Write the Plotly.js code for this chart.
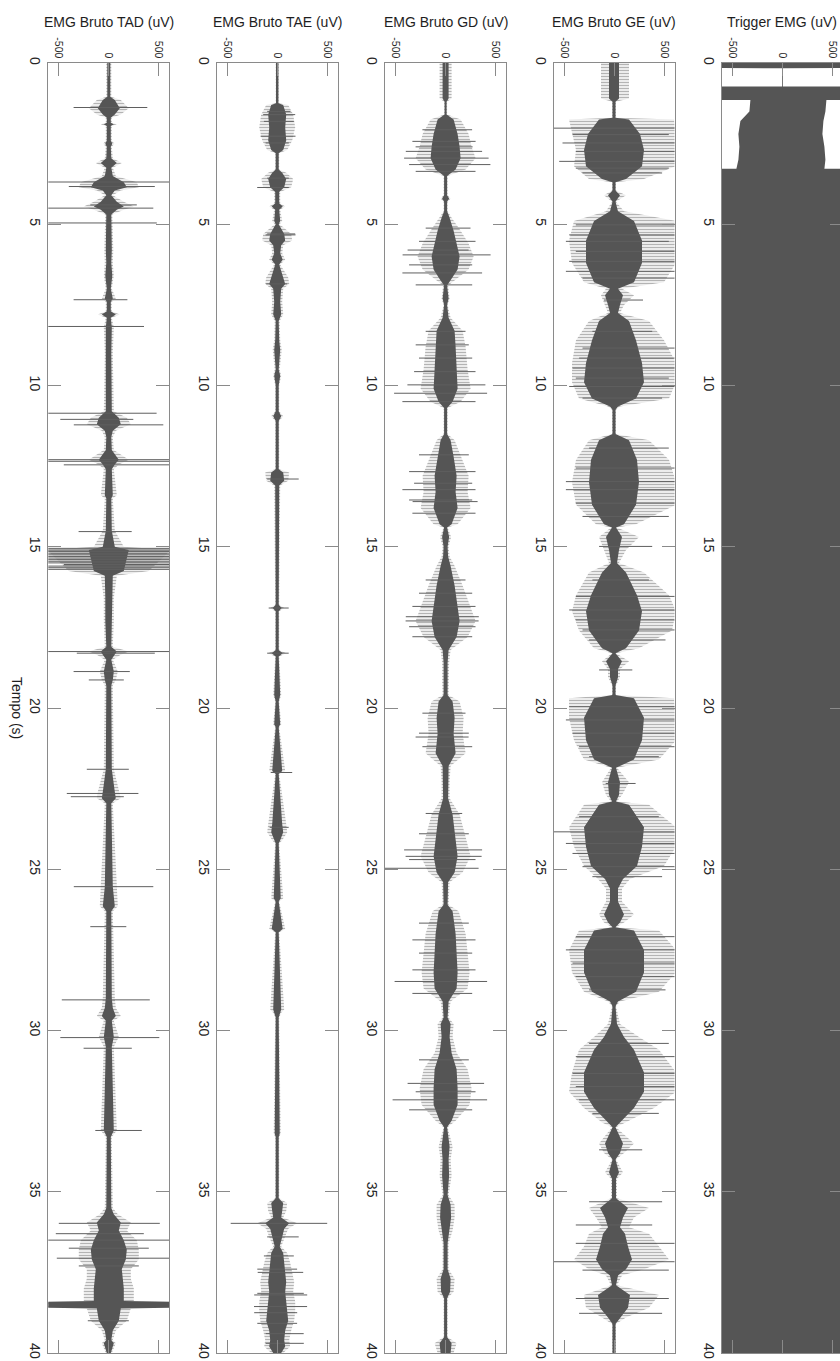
<!DOCTYPE html>
<html><head><meta charset="utf-8">
<script src="https://cdn.plot.ly/plotly-3.0.1.min.js"></script>
<style>html,body{margin:0;padding:0;background:#fff;overflow:hidden;}#chart{width:845px;height:1361px;}</style>
</head><body><div id="chart"></div><script>
// ---------- titles / ticks ----------
const panelTitles = ['EMG Bruto TAD (uV)', 'EMG Bruto TAE (uV)', 'EMG Bruto GD (uV)', 'EMG Bruto GE (uV)', 'Trigger EMG (uV)'];
const timeTitle = 'Tempo (s)';
const timeTicks = [0, 5, 10, 15, 20, 25, 30, 35, 40];
const ampTicks = [-500, 0, 500];
const ampTickText = ['-500', '0', '500'];

// ---------- TAD: envelope knots (time s, dense core half-width uV, outer half-width uV) ----------
const tadT      = [0,1.05,1.15,1.4,1.6,1.7,1.85,1.9,1.95,2.4,2.5,2.6,2.95,3.1,3.25,3.5,3.7,3.85,3.95,4.1,4.3,4.45,4.55,4.7,5.8,6.2,6.6,7.0,7.3,7.4,7.7,7.8,7.9,8.2,9.0,10.0,10.8,11.0,11.2,11.4,11.6,12.0,12.3,12.45,12.6,13.4,13.5,14.5,15.0,15.1,15.75,15.9,16.6,17.3,18.1,18.25,18.35,18.5,18.87,19.13,19.3,21.9,22.6,22.8,22.95,25.54,26.15,26.3,29.0,29.3,29.55,29.7,30.2,30.5,33.1,33.3,35.5,35.7,35.95,36.2,36.5,36.8,37.1,37.4,37.7,38.0,38.39,38.41,38.6,38.62,39.0,39.3,39.6,39.7,40];
const tadCore   = [15,15,60,110,60,20,20,50,20,20,35,20,25,80,25,40,150,180,60,25,80,150,80,25,30,25,35,20,40,20,20,70,20,30,25,30,30,100,120,40,25,30,100,60,30,40,25,30,60,200,150,40,35,35,25,80,60,25,50,40,25,30,60,70,25,40,60,25,30,40,70,30,50,30,50,20,25,50,120,100,150,180,170,130,140,150,150,620,620,120,100,40,25,50,20];
const tadOuter  = [25,25,120,200,120,30,30,80,30,30,55,30,40,130,40,70,280,300,120,40,150,250,150,35,45,40,50,30,70,30,30,110,30,50,40,45,50,180,220,70,40,50,200,100,50,80,40,60,150,620,400,80,50,50,40,200,120,40,90,70,40,50,110,120,40,80,90,40,60,70,120,50,100,50,80,30,40,90,220,180,280,300,300,220,220,250,250,620,620,220,180,70,40,70,30];
const tadSpikeT  = [1.38,3.69,3.83,4.4,4.5,4.96,7.34,8.17,10.86,11.05,11.22,12.3,12.35,12.46,14.53,15.05,15.1,15.15,15.2,15.25,15.3,15.35,15.4,15.45,15.5,15.55,15.6,15.65,15.7,18.25,18.3,18.87,19.13,21.9,22.65,22.75,25.54,26.78,29.05,30.22,30.55,33.1,35.98,36.3,36.5,36.75,37.06,37.3,39.0];
const tadSpikeLo = [-352,-620,-400,-185,-620,-620,-352,-620,-620,-485,-350,-620,-620,-450,-302,-620,-620,-620,-620,-620,-620,-620,-620,-620,-620,-450,-620,-620,-620,-620,-320,-352,-200,-220,-420,-380,-350,-185,-470,-485,-252,-135,-500,-530,-620,-400,-520,-300,-210];
const tadSpikeHi = [385,620,460,280,445,480,186,352,478,245,545,620,620,620,229,620,620,620,620,620,620,620,620,620,620,620,620,620,620,620,460,210,150,200,296,150,445,175,410,505,230,330,510,350,620,400,620,300,200];

// ---------- TAE ----------
const taeT      = [0,1.25,1.3,1.6,2.0,2.4,2.7,2.8,3.3,3.4,3.6,3.85,4.0,4.35,4.45,4.55,4.9,5.0,5.3,5.5,5.65,5.9,6.1,6.25,6.65,6.85,7.0,7.4,7.8,8.0,8.6,8.9,9.5,9.7,10.0,10.8,10.95,11.1,12.6,12.7,12.95,13.1,16.8,16.9,17.0,18.2,18.3,18.4,19.6,19.8,20.5,20.6,21.95,22.05,23.6,23.85,24.1,24.2,25.9,26.0,26.85,26.95,29.35,29.45,29.6,33.2,33.3,35.2,35.35,35.6,35.8,35.98,36.15,36.4,36.7,36.9,37.2,37.5,37.8,38.1,38.4,38.7,39.0,39.3,39.6,39.8,40];
const taeCore   = [12,12,60,90,80,90,60,15,15,50,90,70,20,20,55,20,30,15,70,80,40,30,55,20,60,80,40,30,40,15,20,30,15,30,15,15,40,15,15,60,70,20,15,45,15,15,55,15,30,15,30,15,50,15,50,60,30,15,35,15,55,15,40,30,15,25,15,15,60,50,40,120,70,50,25,60,70,80,90,80,90,100,110,80,70,80,40];
const taeOuter  = [15,15,110,160,180,150,100,20,20,90,160,140,30,30,80,30,50,25,140,150,60,50,80,30,110,120,60,50,60,25,30,45,25,40,20,20,60,20,20,120,110,30,20,70,20,20,90,20,40,20,40,20,80,20,90,100,50,20,60,20,80,20,70,40,20,35,20,20,100,90,60,200,110,80,40,100,130,150,170,160,180,180,170,140,120,130,60];
const taeSpikeT  = [1.5,1.6,1.81,2.27,2.48,3.57,3.86,5.3,5.33,6.85,12.9,16.9,18.3,22.0,23.7,35.98,36.4,36.99,37.4,37.5,38.15,38.2,38.56,38.75,39.08,39.4,39.7];
const taeSpikeLo = [-100,-140,-133,-166,-116,-100,-200,-100,-116,-110,-100,-85,-100,-65,-75,-465,-100,-133,-199,-195,-199,-230,-232,-230,-199,-115,-116];
const taeSpikeHi = [133,180,166,183,116,116,116,180,183,100,215,115,115,150,115,500,215,166,199,260,266,300,299,200,199,265,266];

// ---------- GD ----------
const gdT      = [0,1.1,1.2,1.6,1.75,2.2,2.6,2.95,3.3,3.5,4.1,4.2,4.3,4.6,4.8,5.2,5.6,6.0,6.4,6.7,6.9,7.3,7.5,7.9,8.3,8.8,9.5,10.1,10.5,10.7,11.5,11.7,12.2,12.8,13.3,13.8,14.3,14.4,14.7,15.0,15.3,15.6,16.2,16.8,17.3,17.8,18.2,18.6,19.2,19.6,19.8,20.3,20.8,21.4,21.8,22.3,22.8,23.3,24.0,24.6,25.1,25.4,26.1,26.3,27.0,27.6,28.2,28.7,29.1,29.6,29.8,30.2,30.7,31.2,31.8,32.3,32.8,33.0,33.6,34.0,34.5,35.1,35.4,35.8,36.2,36.6,37.4,37.7,38.1,38.3,39.5,39.7,40];
const gdCore   = [30,30,10,10,80,120,140,150,100,15,15,35,15,15,40,80,110,140,120,60,15,30,15,30,90,100,110,120,70,15,15,50,80,110,100,120,60,15,35,20,25,50,90,120,140,110,30,20,20,20,70,90,80,100,30,25,25,70,100,120,90,25,20,70,100,110,120,110,30,20,50,40,60,110,120,120,60,15,40,30,35,20,50,55,40,20,20,50,45,15,15,60,50];
const gdOuter  = [60,60,15,15,150,230,260,300,200,20,20,50,20,20,60,150,230,280,230,110,25,40,20,50,170,200,220,250,150,20,20,90,150,230,220,250,120,20,55,30,40,90,170,240,300,220,50,35,35,30,140,180,170,200,50,40,40,140,200,250,170,40,30,130,200,220,240,220,50,30,80,70,110,220,260,240,100,20,70,50,60,30,90,90,70,30,30,90,80,20,20,110,80];
const gdSpikeT  = [2.07,2.43,2.6,2.74,2.95,3.15,3.36,5.12,5.53,5.8,5.95,6.26,6.51,6.88,8.32,8.74,9.15,9.57,9.98,10.24,10.5,12.15,12.67,13.03,13.23,13.55,13.6,13.96,16.03,16.44,16.85,17.17,17.3,17.48,17.79,20.16,20.78,20.9,21.2,23.27,23.9,24.4,24.6,24.7,24.97,26.67,27.19,27.6,28.12,28.48,28.85,30.91,31.64,31.9,32.15,32.46];
const gdSpikeLo = [-232,-332,-300,-398,-415,-365,-299,-199,-266,-380,-430,-365,-432,-299,-199,-299,-266,-315,-382,-515,-432,-266,-365,-315,-432,-365,-330,-332,-199,-266,-332,-398,-400,-365,-332,-232,-266,-300,-232,-199,-266,-415,-400,-365,-615,-266,-332,-266,-332,-510,-332,-266,-380,-299,-530,-365];
const gdSpikeHi = [265,300,270,365,430,448,299,249,299,230,450,266,365,266,199,232,266,299,398,415,299,232,299,266,299,266,320,299,199,266,299,332,330,299,266,199,232,230,266,166,232,365,360,299,330,232,299,266,299,415,266,232,385,299,415,266];

// ---------- GE (core symmetric, outer negative / positive extents) ----------
const geT        = [0,1.1,1.2,1.7,1.75,2.2,2.7,3.2,3.6,3.7,3.95,4.1,4.3,4.6,4.9,5.5,6.2,6.8,7.0,7.2,7.5,7.75,8.0,8.6,9.3,9.9,10.4,10.65,10.75,11.5,11.7,12.3,13.0,13.7,14.3,14.4,14.7,15.1,15.5,15.8,16.5,17.0,17.6,18.15,18.3,18.55,18.8,19.05,19.3,19.6,19.7,20.3,21.0,21.6,21.85,22.3,22.7,22.9,23.0,23.7,24.3,24.9,25.3,25.6,26.0,26.4,26.65,26.8,26.9,27.5,28.2,28.8,29.1,29.25,29.8,30.2,30.6,31.3,31.9,32.4,32.85,33.0,33.5,33.8,34.0,34.4,34.6,35.2,35.5,35.8,36.1,36.3,36.7,37.1,37.4,37.6,37.9,38.2,38.6,38.9,39.1,40];
const geCore     = [50,50,15,15,150,260,300,280,120,15,15,60,15,40,200,280,280,200,40,90,60,40,150,220,280,300,220,40,15,15,150,230,250,220,100,20,80,50,30,120,230,280,250,120,15,80,40,40,15,15,200,300,280,200,20,60,50,20,150,300,280,230,90,40,40,100,60,15,200,300,300,220,40,15,30,100,200,300,300,200,60,15,90,60,15,50,20,20,140,90,60,110,140,180,120,40,20,160,140,60,15,15];
const geOuterNeg = [130,130,20,20,450,420,380,400,250,20,20,100,20,80,400,450,420,300,80,130,90,60,250,380,420,420,350,60,20,20,250,380,420,380,180,30,150,100,50,250,380,420,350,200,20,120,60,60,20,20,450,450,400,300,30,120,80,30,300,450,400,300,160,80,80,150,100,20,350,450,420,300,60,20,60,200,350,420,450,300,120,20,150,100,20,90,30,30,250,180,120,250,300,400,250,80,30,300,280,120,20,20];
const geOuterPos = [150,150,20,20,600,620,620,620,300,20,20,120,20,100,620,620,620,500,80,200,100,60,350,500,620,620,550,60,20,20,350,550,620,620,220,30,250,120,50,300,550,620,580,250,20,150,60,60,20,20,600,620,620,450,30,150,80,30,350,620,620,500,160,80,80,200,100,20,450,620,620,450,60,20,60,250,450,620,620,400,120,20,200,100,20,90,30,30,350,200,150,350,450,550,300,80,30,450,350,120,20,20];
const geSpikeT  = [2.02,2.22,2.48,2.74,3.05,3.26,3.41,5.02,5.33,5.53,5.84,6.15,6.46,6.67,7.35,8.32,8.84,9.15,9.46,9.77,10.03,10.39,11.94,12.56,12.98,13.23,13.65,14.06,14.99,16.03,16.54,16.96,17.27,17.58,17.89,18.82,19.96,20.37,20.78,21.2,21.51,22.34,23.37,23.84,24.2,24.51,24.92,25.23,27.09,27.5,27.91,28.33,28.74,30.4,30.81,31.33,31.74,32.15,32.57,33.7,35.31,36.03,36.6,37.17,37.43,38.31,38.77];
const geSpikeLo = [-620,-415,-515,-382,-548,-382,-315,-382,-448,-481,-382,-448,-481,-315,-100,-216,-315,-349,-415,-382,-448,-315,-249,-382,-481,-481,-382,-315,-149,-216,-382,-448,-382,-315,-249,-149,-448,-481,-415,-349,-249,-83,-349,-620,-481,-415,-315,-216,-382,-481,-415,-382,-249,-249,-382,-415,-382,-349,-216,-149,-249,-382,-382,-620,-315,-382,-349];
const geSpikeHi = [620,548,620,620,620,548,481,620,620,548,620,620,620,620,290,382,620,620,620,548,620,481,548,620,620,620,620,548,382,349,620,620,620,620,515,183,620,620,620,620,448,216,448,620,620,620,620,481,620,620,620,620,515,548,620,620,620,620,448,282,481,382,610,620,548,548,481];

// ---------- Trigger (lower / upper extents; signal saturates beyond the axis) ----------
const trigT  = [0,0.15,0.16,0.73,0.74,1.14,1.15,1.5,1.8,2.2,2.6,3.0,3.28,3.32,40];
const trigLo = [-3000,-3000,-4,-4,-3000,-3000,-320,-330,-420,-440,-430,-440,-460,-3000,-3000];
const trigHi = [3000,3000,4,4,3000,3000,440,430,410,400,420,430,420,3000,3000];

// ---------- build ----------
const CORE = 'rgb(85,85,85)';
const SPIKE = 'rgb(95,95,95)';
const FONT = 'Liberation Sans, Arial, Helvetica, sans-serif';
const FIG_W = 845, FIG_H = 1361, TOP = 63, BOTTOM = 8;
const panelLeft0 = 48.3, panelStep = 168.4, panelWidth = 121;

function ax(k, p) { return p + (k === 1 ? '' : k); }
function neg(a) { return a.map(v => -v); }
function envelope(t, lo, hi, k, patterned) {
  const tr = {type: 'scatter', mode: 'lines', x: hi.concat(lo.slice().reverse()), y: t.concat(t.slice().reverse()),
    fill: 'toself', fillcolor: CORE, line: {width: 0, color: CORE}, hoverinfo: 'skip', showlegend: false,
    xaxis: ax(k, 'x'), yaxis: ax(k, 'y')};
  if (patterned) {
    tr.fillcolor = 'rgba(255,255,255,0)';
    tr.fillpattern = {shape: '-', size: 3, solidity: 0.5, fgcolor: 'rgb(105,105,105)', bgcolor: 'rgba(255,255,255,0)', fillmode: 'overlay'};
  }
  return tr;
}
function spikes(t, lo, hi, k) {
  const x = [], y = [];
  for (let i = 0; i < t.length; i++) { x.push(lo[i], hi[i], null); y.push(t[i], t[i], null); }
  return {type: 'scatter', mode: 'lines', x: x, y: y, line: {width: 1, color: SPIKE}, hoverinfo: 'skip',
    showlegend: false, connectgaps: false, xaxis: ax(k, 'x'), yaxis: ax(k, 'y')};
}

const traces = [
  envelope(tadT, neg(tadOuter), tadOuter, 1, true),
  envelope(tadT, neg(tadCore), tadCore, 1, false),
  spikes(tadSpikeT, tadSpikeLo, tadSpikeHi, 1),
  envelope(taeT, neg(taeOuter), taeOuter, 2, true),
  envelope(taeT, neg(taeCore), taeCore, 2, false),
  spikes(taeSpikeT, taeSpikeLo, taeSpikeHi, 2),
  envelope(gdT, neg(gdOuter), gdOuter, 3, true),
  envelope(gdT, neg(gdCore), gdCore, 3, false),
  spikes(gdSpikeT, gdSpikeLo, gdSpikeHi, 3),
  envelope(geT, neg(geOuterNeg), geOuterPos, 4, true),
  envelope(geT, neg(geCore), geCore, 4, false),
  spikes(geSpikeT, geSpikeLo, geSpikeHi, 4),
  envelope(trigT, trigLo, trigHi, 5, false)
];

const layout = {
  width: FIG_W, height: FIG_H, margin: {l: 0, r: 0, t: TOP, b: BOTTOM},
  paper_bgcolor: '#fff', plot_bgcolor: '#fff', showlegend: false,
  font: {family: FONT, color: '#262626'},
  annotations: []
};
const plotH = FIG_H - TOP - BOTTOM;
for (let k = 1; k <= 5; k++) {
  const left = panelLeft0 + panelStep * (k - 1);
  layout[ax(k, 'xaxis')] = {
    domain: [left / FIG_W, (left + panelWidth) / FIG_W], anchor: ax(k, 'y'), side: 'top',
    range: [-605, 605], tickvals: ampTicks, ticktext: ampTickText, tickangle: 90,
    ticks: 'inside', ticklen: 13, tickcolor: '#8a8a8a', showline: true, linecolor: '#8a8a8a', linewidth: 1,
    mirror: 'ticks', showgrid: false, zeroline: false, tickfont: {size: 10.5, color: '#262626', family: FONT},
    fixedrange: true
  };
  layout[ax(k, 'yaxis')] = {
    domain: [0, 1], anchor: ax(k, 'x'), range: [40, 0], tickvals: timeTicks, tickangle: 90,
    ticks: 'inside', ticklen: 13, tickcolor: '#8a8a8a', showline: true, linecolor: '#8a8a8a', linewidth: 1,
    mirror: 'ticks', showgrid: false, zeroline: false, tickfont: {size: 14, color: '#262626', family: FONT},
    fixedrange: true
  };
  layout.annotations.push({
    text: panelTitles[k - 1], xref: 'paper', yref: 'paper', x: (left + panelWidth / 2) / FIG_W,
    y: 1 + (TOP - 22) / plotH, xanchor: 'center', yanchor: 'middle', showarrow: false,
    font: {size: 14, family: FONT, color: '#1e1e1e'}
  });
}
layout.annotations.push({
  text: timeTitle, xref: 'paper', yref: 'paper', x: 17 / FIG_W, y: 0.5, xanchor: 'center', yanchor: 'middle',
  textangle: 90, showarrow: false, font: {size: 14, family: FONT, color: '#1e1e1e'}
});

Plotly.newPlot('chart', traces, layout, {displayModeBar: false, staticPlot: true});
</script></body></html>
